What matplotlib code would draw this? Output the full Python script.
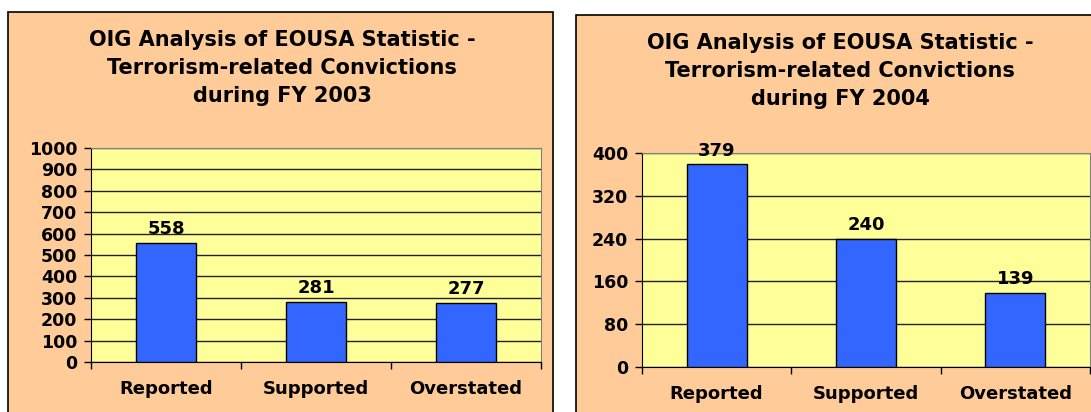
import numpy as np
import matplotlib.pyplot as plt
from matplotlib.patches import Rectangle

categories = ["Reported", "Supported", "Overstated"]
values_2003 = [558, 281, 277]
values_2004 = [379, 240, 139]
ticks_2003 = [0, 100, 200, 300, 400, 500, 600, 700, 800, 900, 1000]
ticks_2004 = [0, 80, 160, 240, 320, 400]
title_2003 = "OIG Analysis of EOUSA Statistic -\nTerrorism-related Convictions\nduring FY 2003"
title_2004 = "OIG Analysis of EOUSA Statistic -\nTerrorism-related Convictions\nduring FY 2004"

W, H = 1091, 412
PEACH = "#FFCC99"
YELLOW = "#FFFF99"
BLUE = "#3366FF"
plt.rcParams['font.family'] = ['DejaVu Sans']
plt.rcParams['font.weight'] = 'bold'


def px(x0, y0, x1, y1):
    # pixel box (top-left origin) -> figure fraction rect
    return [x0 / W, 1 - y1 / H, (x1 - x0) / W, (y1 - y0) / H]


def panel(fig, box, axbox, title, title_xy, vals, ticks):
    r = px(*box)
    fig.patches.append(Rectangle((r[0], r[1]), r[2], r[3], transform=fig.transFigure,
                                 facecolor=PEACH, edgecolor="black", linewidth=1.2, zorder=-5))
    fig.text(title_xy[0] / W, 1 - title_xy[1] / H, title, ha="center", va="top",
             fontsize=15, fontweight="bold", linespacing=1.5)

    ax = fig.add_axes(px(*axbox))
    ax.set_facecolor(YELLOW)
    x = np.arange(len(vals))
    ax.bar(x, vals, width=0.4, color=BLUE, edgecolor="black", linewidth=1, zorder=3)
    for xi, v in zip(x, vals):
        ax.text(xi, v + ticks[-1] * 0.022, str(v), ha="center", va="bottom",
                fontsize=13, fontweight="bold", zorder=4)
    ax.set_xlim(-0.5, len(vals) - 0.5)
    ax.set_ylim(0, ticks[-1])
    ax.set_yticks(ticks)
    ax.set_yticklabels([str(t) for t in ticks], fontsize=12.5, fontweight="bold")
    ax.yaxis.grid(True, color="#222222", linewidth=1, zorder=1)
    ax.set_axisbelow(True)
    ax.set_xticks(x)
    ax.set_xticklabels(categories, fontsize=13, fontweight="bold")
    ax.set_xticks(np.arange(len(vals) + 1) - 0.5, minor=True)
    ax.tick_params(axis="x", which="major", length=0, pad=13)
    ax.tick_params(axis="x", which="minor", length=5, width=1, direction="out")
    ax.tick_params(axis="y", length=5, width=1, direction="out", pad=5)
    for s in ["top", "right"]:
        ax.spines[s].set_color("#808080")
    for s in ["left", "bottom"]:
        ax.spines[s].set_color("black")
    return ax


fig = plt.figure(figsize=(W / 100, H / 100), dpi=100)
fig.patch.set_facecolor("white")

panel(fig, (8, 12, 553, 430), (91, 148, 541, 362), title_2003, (282, 30),
      values_2003, ticks_2003)
panel(fig, (576, 15, 1110, 430), (642, 153, 1090, 367), title_2004, (840, 33),
      values_2004, ticks_2004)

fig.savefig("out.png", dpi=100, facecolor=fig.get_facecolor())
